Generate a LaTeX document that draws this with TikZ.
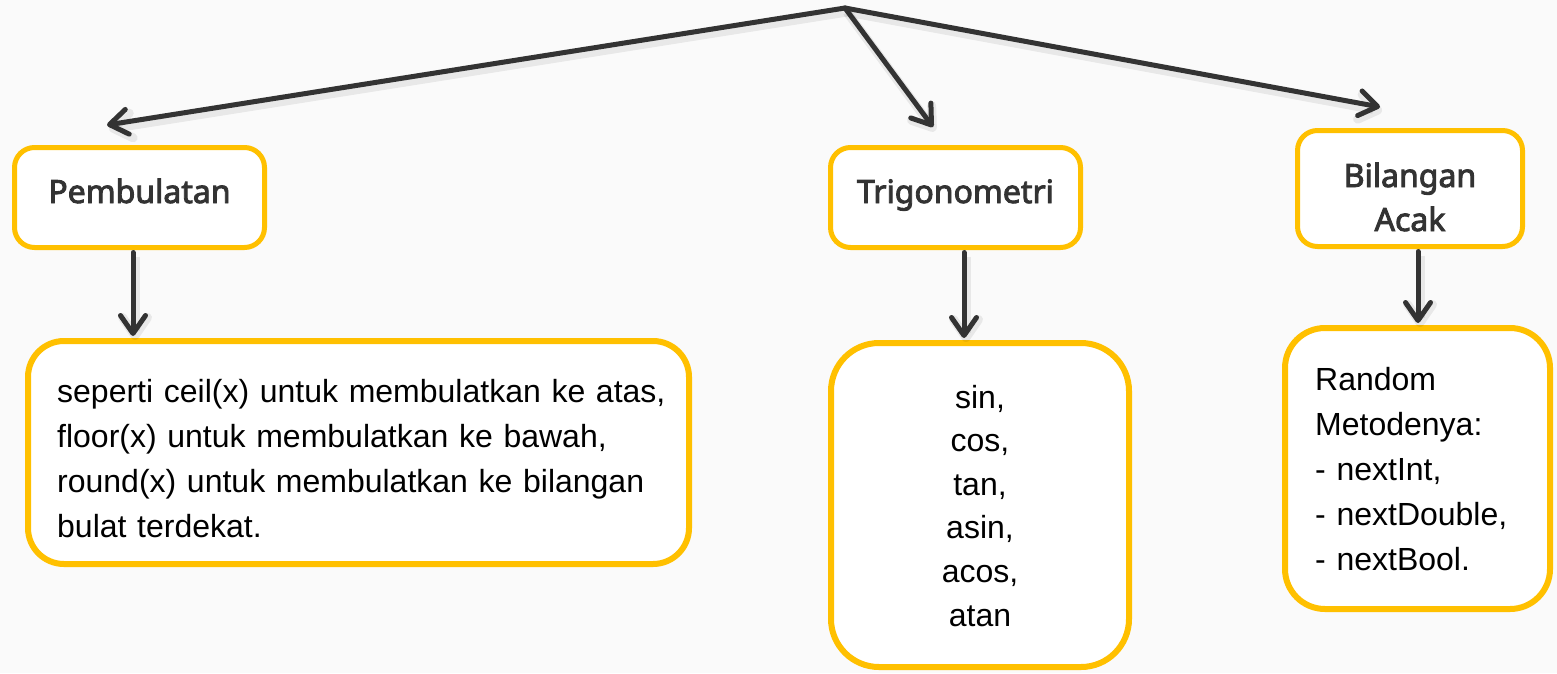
\documentclass[tikz,border=0pt]{standalone}
\usepackage{fontspec}
\setmainfont{Liberation Sans}
\newfontfamily\labfont{Noto Sans}[FakeBold=2.8]
\usetikzlibrary{arrows.meta}
\definecolor{bgc}{HTML}{FAFAFA}
\definecolor{gold}{HTML}{FFC000}
\definecolor{ink}{HTML}{333333}
\begin{document}
\begin{tikzpicture}[x=1pt,y=-1pt,
  box/.style={draw=gold, line width=5pt, fill=white, rounded corners=#1, inner sep=0pt},
  lab/.style={font=\labfont\fontsize{32pt}{44pt}\selectfont, text=ink, inner sep=0pt},
  body/.style={font=\fontsize{32pt}{45pt}\selectfont, text=black, inner sep=0pt},
  arr/.style={draw=ink, line width=5pt, line cap=round,
    -{Straight Barb[length=18pt,width=25pt,line cap=round,line join=round]},
    preaction={draw=black, draw opacity=0.07, line width=9pt,
      transform canvas={shift={(2pt,-4pt)}}}}
]
\fill[bgc] (0,0) rectangle (1557,673);
\useasboundingbox (0,0) rectangle (1557,673);

% top level boxes
\node[box=20pt, minimum width=250pt, minimum height=100pt, lab, text height=23pt, text depth=12pt] (pemb) at (139.5,197.5) {Pembulatan};
\node[box=20pt, minimum width=250pt, minimum height=100pt, lab, text height=23pt, text depth=12pt] (trig) at (955.5,197.5) {Trigonometri};
\node[box=20pt, minimum width=225pt, minimum height=116pt] (bil) at (1410,188.5) {};
\node[lab, text width=220pt, align=center, anchor=base] (bilt) at (1410,187) {Bilangan\\Acak};

% detail boxes
\node[box=36pt, line width=6pt, minimum width=661pt, minimum height=223pt] (pd) at (358.5,452.5) {};
\node[body, text width=630pt, align=left, anchor=base west] (pdt) at (57,402)
  {seperti ceil(x) untuk membulatkan ke atas,\\floor(x) untuk membulatkan ke bawah,\\round(x) untuk membulatkan ke bilangan\\bulat terdekat.};
\node[box=48pt, line width=6pt, minimum width=298pt, minimum height=324pt] (td) at (980,505) {};
\node[body, font=\fontsize{32pt}{43.6pt}\selectfont, text width=200pt, align=center, anchor=base] (tdt) at (980,408)
  {sin,\\cos,\\tan,\\asin,\\acos,\\atan};
\node[box=40pt, line width=6pt, minimum width=265pt, minimum height=281pt] (rd) at (1417.5,468.5) {};
\node[body, text width=225pt, align=left, anchor=base west] (rdt) at (1315,390)
  {Random\\Metodenya:\\- nextInt,\\- nextDouble,\\- nextBool.};

% connectors
\coordinate (hub) at (845,8);
\coordinate (t1) at (107,125);
\coordinate (t2) at (933,127);
\coordinate (t3) at (1380,107);
\draw[arr] (hub) -- (t1);
\draw[arr] (hub) -- (t2);
\draw[arr] (hub) -- (t3);

\draw[arr] ([xshift=-6.5pt,yshift=-2.5pt]pemb.south) -- ([xshift=-225.5pt,yshift=2pt]pd.north);
\draw[arr] ([xshift=8.5pt,yshift=-2.5pt]trig.south) -- ([xshift=-16pt,yshift=2pt]td.north);
\draw[arr] ([xshift=8pt,yshift=-2.5pt]bil.south) -- ([xshift=0.5pt,yshift=2pt]rd.north);
\end{tikzpicture}
\end{document}
